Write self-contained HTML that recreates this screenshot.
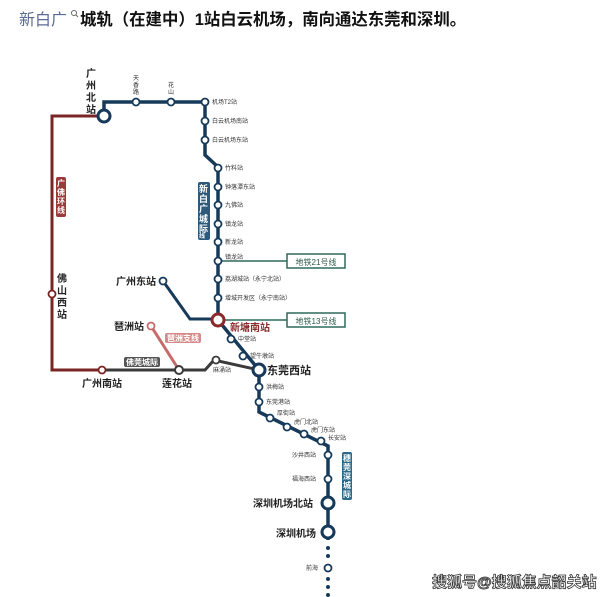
<!DOCTYPE html>
<html><head><meta charset="utf-8"><style>
html,body{margin:0;padding:0;background:#fff;width:615px;height:597px;overflow:hidden}
svg{display:block}
text{font-family:"Liberation Sans","Noto Sans CJK SC",sans-serif}
</style></head><body>
<svg width="615" height="597" viewBox="0 0 615 597" xmlns="http://www.w3.org/2000/svg">
<text x="19" y="25" font-size="16" fill="#5a6a94">新白广</text>
<circle cx="74" cy="13" r="2.5" fill="none" stroke="#666" stroke-width="1"/>
<line x1="76" y1="15" x2="78" y2="17" stroke="#666"/>
<text x="80" y="25" font-size="16.4" font-weight="bold" fill="#111">城轨（在建中）1站白云机场，南向通达东莞和深圳。</text>

<polyline points="104,116 52,116 52,370 102,370" fill="none" stroke="#7a2424" stroke-width="3"/>
<polyline points="102,370 205,370 214,360 259,370" fill="none" stroke="#3a3a3a" stroke-width="3"/>
<line x1="151" y1="326" x2="179" y2="370" stroke="#c86a6a" stroke-width="3"/>
<polyline points="163,281 190,319 218,319" fill="none" stroke="#173a5a" stroke-width="3"/>
<line x1="218" y1="261" x2="287" y2="261" stroke="#2d6a5a" stroke-width="1.5"/>
<line x1="218" y1="320" x2="287" y2="320" stroke="#2d6a5a" stroke-width="1.5"/>
<rect x="287" y="254" width="58" height="14" fill="#fff" stroke="#2d6a5a" stroke-width="1.5"/>
<text x="316" y="265" font-size="8" text-anchor="middle" fill="#2d5a4a">地铁21号线</text>
<rect x="287" y="313" width="58" height="14" fill="#fff" stroke="#2d6a5a" stroke-width="1.5"/>
<text x="316" y="324" font-size="8" text-anchor="middle" fill="#2d5a4a">地铁13号线</text>
<polyline points="104,116 104,102 205,102 205,155 218,167 218,320 259,370 259,412 328,446 328,540" fill="none" stroke="#173a5a" stroke-width="3.5"/>
<g fill="#173a5a">
<circle cx="328" cy="548" r="2"/><circle cx="328" cy="556" r="2"/><circle cx="328" cy="579" r="2"/><circle cx="328" cy="587" r="2"/><circle cx="328" cy="595" r="2"/>
</g>
<g fill="#fff" stroke="#173a5a" stroke-width="1.8">
<circle cx="136" cy="102" r="3.5"/><circle cx="171" cy="102" r="3.5"/><circle cx="205" cy="102" r="3.5"/>
<circle cx="205" cy="121" r="3.5"/><circle cx="205" cy="140" r="3.5"/>
<circle cx="218" cy="168" r="3.5"/><circle cx="218" cy="187" r="3.5"/><circle cx="218" cy="205" r="3.5"/><circle cx="218" cy="224" r="3.5"/><circle cx="218" cy="242" r="3.5"/><circle cx="218" cy="261" r="3.5"/><circle cx="218" cy="279" r="3.5"/><circle cx="218" cy="298" r="3.5"/>
<circle cx="231" cy="339" r="3.5"/><circle cx="243" cy="356" r="3.5"/>
<circle cx="259" cy="387" r="3.5"/><circle cx="259" cy="402" r="3.5"/>
<circle cx="270" cy="418" r="3.5"/><circle cx="287" cy="427" r="3.5"/><circle cx="304" cy="434" r="3.5"/><circle cx="321" cy="441" r="3.5"/>
<circle cx="328" cy="455" r="3.5"/><circle cx="328" cy="479" r="3.5"/><circle cx="328" cy="568" r="3.5"/>
<circle cx="163" cy="281" r="3.5"/>
<circle cx="104" cy="116" r="6" stroke-width="3"/>
<circle cx="259" cy="370" r="6" stroke-width="3"/>
<circle cx="328" cy="503" r="6" stroke-width="3"/>
<circle cx="328" cy="532" r="6" stroke-width="3"/>
</g>
<circle cx="216" cy="360" r="3.5" fill="#fff" stroke="#3a3a3a" stroke-width="1.8"/>
<circle cx="179" cy="370" r="4" fill="#fff" stroke="#3a3a3a" stroke-width="2"/>
<circle cx="102" cy="370" r="3.5" fill="#fff" stroke="#7a2424" stroke-width="1.8"/>
<circle cx="52" cy="294" r="3.5" fill="#fff" stroke="#7a2424" stroke-width="1.8"/>
<circle cx="151" cy="326" r="3.5" fill="#fff" stroke="#c86a6a" stroke-width="1.8"/>
<circle cx="218" cy="320" r="6" fill="#fff" stroke="#8a2a2a" stroke-width="3"/>

<g font-size="10" font-weight="bold" fill="#222">
<text x="86" y="77">广</text><text x="86" y="89">州</text><text x="86" y="101">北</text><text x="86" y="113">站</text>
<text x="57" y="282">佛</text><text x="57" y="294">山</text><text x="57" y="306">西</text><text x="57" y="318">站</text>
<text x="116" y="285">广州东站</text>
<text x="114" y="330">琶洲站</text>
<text x="82" y="387">广州南站</text>
<text x="162" y="387">莲花站</text>
<text x="267" y="374" font-size="11">东莞西站</text>
<text x="253" y="507">深圳机场北站</text>
<text x="276" y="537">深圳机场</text>
</g>
<text x="230" y="331" font-size="10" font-weight="bold" fill="#8a2a2a">新塘南站</text>
<g font-size="6" fill="#333">
<text x="133" y="80">天</text><text x="133" y="87">香</text><text x="133" y="94">路</text>
<text x="168" y="87">花</text><text x="168" y="94">山</text>
<text x="212" y="104">机场T2站</text>
<text x="212" y="123">白云机场南站</text>
<text x="212" y="142">白云机场东站</text>
<text x="225" y="170">竹料站</text>
<text x="225" y="189">钟落潭东站</text>
<text x="225" y="207">九佛站</text>
<text x="225" y="226">镇龙站</text>
<text x="225" y="244">新龙站</text>
<text x="225" y="259">镇龙站</text>
<text x="225" y="281">荔湖城站（永宁北站）</text>
<text x="225" y="300">增城开发区（永宁南站）</text>
<text x="238" y="341">中堂站</text>
<text x="250" y="358">望牛墩站</text>
<text x="213" y="372">麻涌站</text>
<text x="266" y="389">洪梅站</text>
<text x="266" y="404">东莞港站</text>
<text x="277" y="415">厚街站</text>
<text x="294" y="424">虎门北站</text>
<text x="311" y="432">虎门东站</text>
<text x="328" y="440">长安站</text>
<text x="292" y="457">沙井西站</text>
<text x="292" y="481">福海西站</text>
<text x="306" y="570">前海</text>
</g>
<rect x="198" y="182" width="12" height="58" rx="2" fill="#2d5a7a"/>
<g font-size="9" font-weight="bold" fill="#fff"><text x="199" y="192">新</text><text x="199" y="202">白</text><text x="199" y="212">广</text><text x="199" y="222">城</text><text x="199" y="232">际</text><text x="199" y="238" font-size="6">线</text></g>
<rect x="56" y="177" width="10" height="40" rx="2" fill="#9a3a3a"/>
<g font-size="8" font-weight="bold" fill="#fff"><text x="57" y="186">广</text><text x="57" y="195">佛</text><text x="57" y="204">环</text><text x="57" y="213">线</text></g>
<rect x="342" y="452" width="10" height="48" rx="2" fill="#2d6a8a"/>
<g font-size="8" font-weight="bold" fill="#fff"><text x="343" y="461">穗</text><text x="343" y="470">莞</text><text x="343" y="479">深</text><text x="343" y="488">城</text><text x="343" y="497">际</text></g>
<rect x="165" y="333" width="36" height="10" rx="2" fill="#d88a8a"/>
<text x="167" y="341" font-size="8" font-weight="bold" fill="#fff">琶洲支线</text>
<rect x="124" y="357" width="36" height="10" rx="2" fill="#555"/>
<text x="126" y="365" font-size="8" font-weight="bold" fill="#fff">佛莞城际</text>
<text x="432" y="587" font-size="15" font-weight="bold" fill="#fff" stroke="#333" stroke-width="0.8">搜狐号@搜狐焦点韶关站</text>
</svg>
</body></html>
